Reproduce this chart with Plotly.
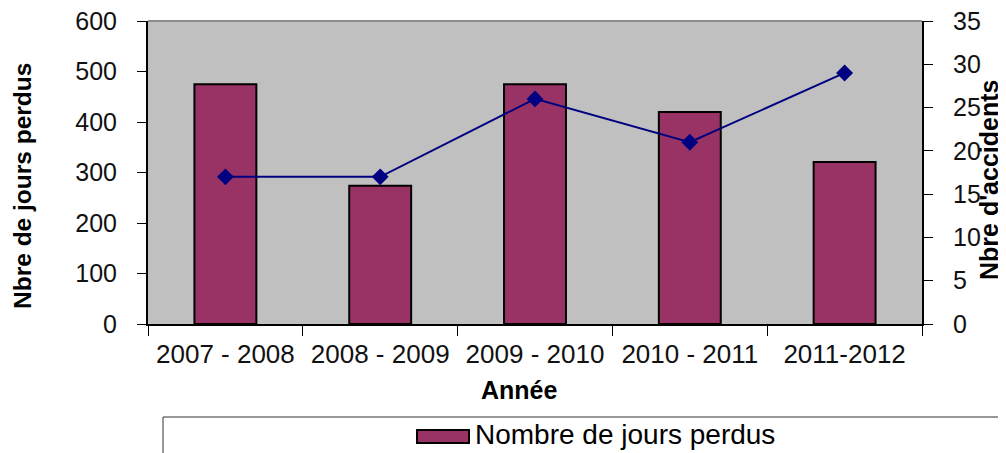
import plotly.graph_objects as go

categories = ["2007 - 2008", "2008 - 2009", "2009 - 2010", "2010 - 2011", "2011-2012"]
jours_perdus = [475, 274, 475, 420, 321]
accidents = [17, 17, 26, 21, 29]
bar_name = "Nombre de jours perdus"
line_name = "Nbre d'accidents"
left_ticks = [0, 100, 200, 300, 400, 500, 600]
right_ticks = [0, 5, 10, 15, 20, 25, 30, 35]

BAR = "#993366"
LINE = "#000080"
FONT = "Liberation Sans, Arial, sans-serif"

# page body has an 8px margin; lay the figure out so that it lands at the reference pixels
OFF = 8
W, H = 1006 - OFF, 453 - OFF
L, R, T, B = 148, 922, 21, 324  # plot area in reference pixels

def px(x):
    return (x - L) / (R - L)

def py(y):
    return (B - y) / (B - T)

fig = go.Figure()
fig.add_trace(go.Bar(
    x=categories, y=jours_perdus, name=bar_name, width=0.4,
    marker=dict(color=BAR, line=dict(color="black", width=2)),
    showlegend=False,
))
fig.add_trace(go.Scatter(
    x=categories, y=accidents, name=line_name, yaxis="y2",
    mode="lines+markers",
    line=dict(color=LINE, width=2),
    marker=dict(symbol="diamond", size=13, color=LINE),
    showlegend=False,
))

xtickfont = dict(family=FONT, size=26, color="#111111")
ytickfont = dict(family=FONT, size=25, color="#111111")

fig.update_layout(
    width=W, height=H,
    margin=dict(l=L - OFF, r=(1006 - R), t=T - OFF, b=(453 - B), autoexpand=False),
    paper_bgcolor="white",
    plot_bgcolor="#C0C0C0",
    bargap=0.6,
    xaxis=dict(
        type="category", showgrid=False, showline=True, linecolor="black", linewidth=2,
        ticks="outside", tickson="boundaries", ticklen=10, tickcolor="black", tickwidth=1,
        tickfont=xtickfont, ticklabelstandoff=6, automargin=False,
        ticklabeloverflow="allow",
    ),
    xaxis2=dict(
        type="category", overlaying="x", matches="x", showgrid=False, showline=False,
        ticks="inside", tickson="boundaries", ticklen=6, tickcolor="black", tickwidth=1,
        showticklabels=False, anchor="y", automargin=False,
    ),
    yaxis=dict(
        range=[0, 600], tickvals=left_ticks, showgrid=False, showline=True,
        linecolor="black", linewidth=2, ticks="outside", ticklen=9, tickcolor="black",
        tickwidth=1, tickfont=ytickfont, ticklabelstandoff=15, zeroline=False,
        automargin=False, ticklabeloverflow="allow",
    ),
    yaxis2=dict(
        range=[0, 35], tickvals=right_ticks, overlaying="y", side="right",
        showgrid=False, showline=True, linecolor="black", linewidth=2,
        ticks="outside", ticklen=9, tickcolor="black", tickwidth=1,
        tickfont=ytickfont, ticklabelstandoff=15, zeroline=False, automargin=False,
        ticklabeloverflow="allow",
    ),
    yaxis3=dict(
        range=[0, 600], tickvals=left_ticks, overlaying="y", side="left", anchor="x",
        showgrid=False, showline=False, ticks="inside", ticklen=8, tickcolor="black",
        tickwidth=1, showticklabels=False, zeroline=False, automargin=False,
    ),
    yaxis4=dict(
        range=[0, 35], tickvals=right_ticks, overlaying="y", side="right", anchor="x",
        showgrid=False, showline=False, ticks="inside", ticklen=8, tickcolor="black",
        tickwidth=1, showticklabels=False, zeroline=False, automargin=False,
    ),
    showlegend=False,
)

shapes = [
    # top border of plot area
    dict(type="line", xref="paper", yref="paper", x0=0, x1=1, y0=1, y1=1,
         line=dict(color="#8c8c8c", width=2)),
    # legend box
    dict(type="rect", xref="paper", yref="paper", x0=px(163), x1=px(1012),
         y0=py(417), y1=py(460), line=dict(color="#333333", width=1),
         fillcolor="white", layer="above"),
    # legend swatch
    dict(type="rect", xref="paper", yref="paper", x0=px(417), x1=px(469),
         y0=py(430), y1=py(443), line=dict(color="black", width=2),
         fillcolor=BAR, layer="above"),
]
fig.update_layout(shapes=shapes)

annotations = [
    dict(text="<b>Année</b>", x=px(519), y=py(390), xref="paper", yref="paper",
         showarrow=False, xanchor="center", yanchor="middle",
         font=dict(family=FONT, size=25, color="black")),
    dict(text="<b>Nbre de jours perdus</b>", x=px(22), y=py(186), xref="paper", yref="paper",
         showarrow=False, textangle=-90, xanchor="center", yanchor="middle",
         font=dict(family=FONT, size=24.5, color="black")),
    dict(text="<b>" + line_name + "</b>", x=px(989), y=py(180), xref="paper", yref="paper",
         showarrow=False, textangle=-90, xanchor="center", yanchor="middle",
         font=dict(family=FONT, size=25, color="black")),
    dict(text=bar_name, x=px(473), y=py(435), xref="paper", yref="paper",
         showarrow=False, xanchor="left", yanchor="middle",
         font=dict(family=FONT, size=28, color="black")),
]
fig.update_layout(annotations=annotations)

fig.write_html("out.html")
